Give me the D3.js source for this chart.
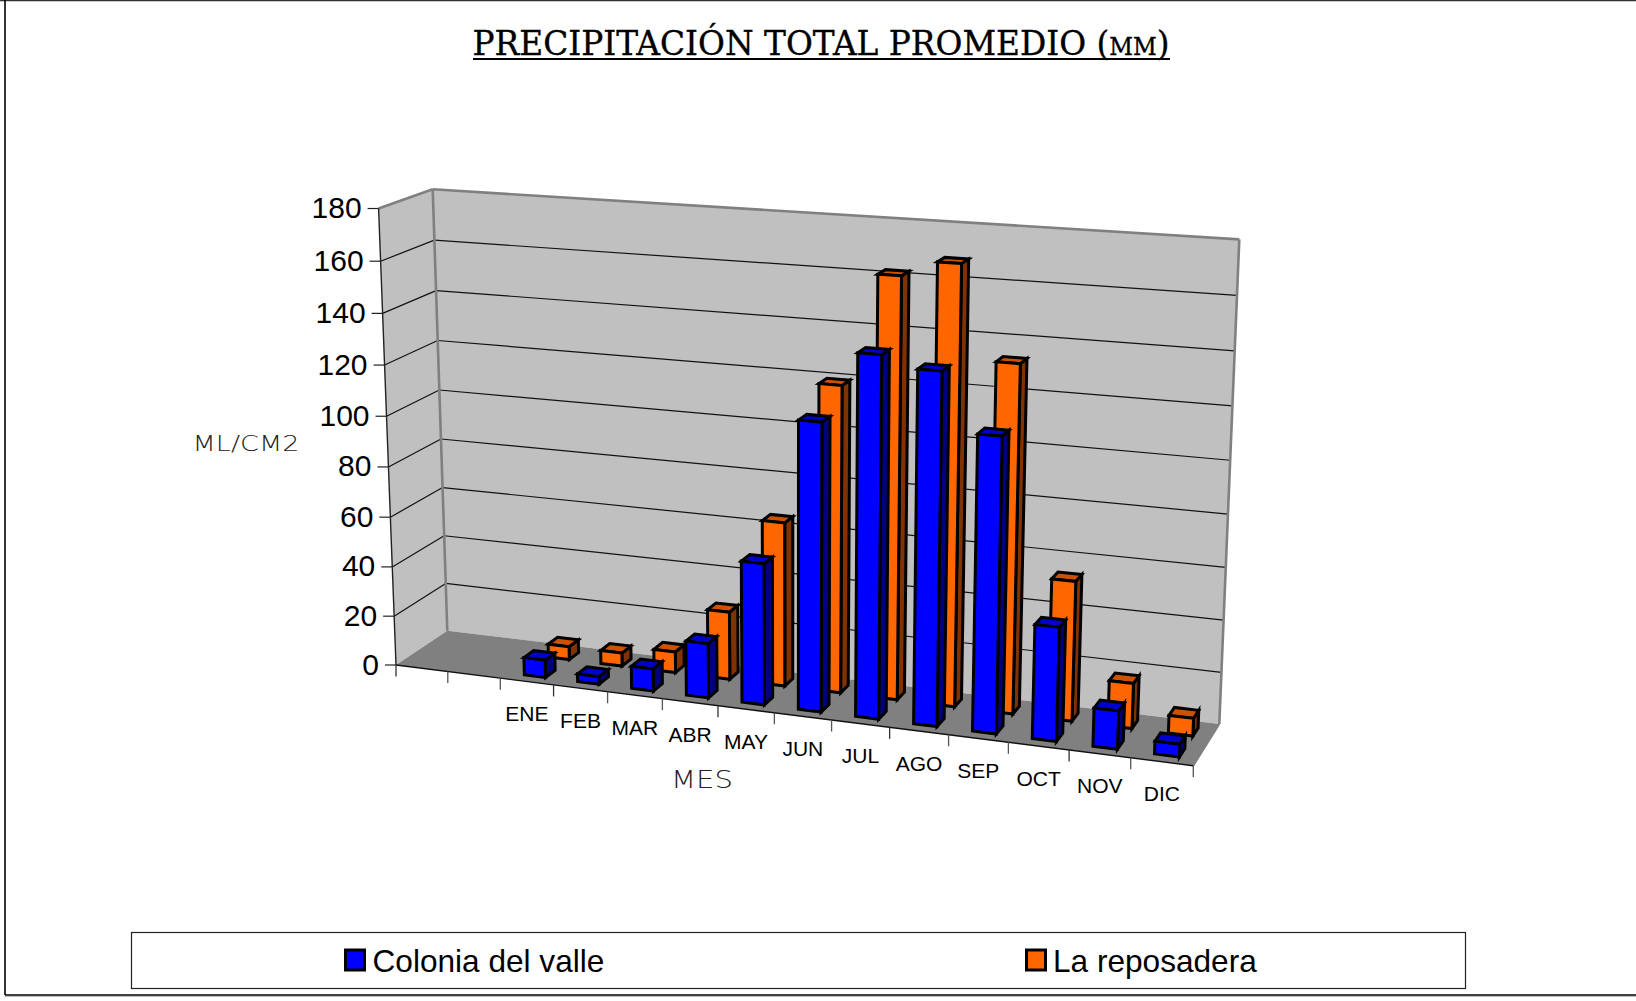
<!DOCTYPE html>
<html><head><meta charset="utf-8">
<script src="https://cdn.jsdelivr.net/npm/d3@7/dist/d3.min.js"></script>
<style>html,body{margin:0;padding:0;background:#fff}svg{display:block}</style>
</head><body><svg id="c" width="1636" height="1001"></svg>
<script>
const months = ["", "", "ENE","FEB","MAR","ABR","MAY","JUN","JUL","AGO","SEP","OCT","NOV","DIC"];
const colonia = [7,3,8.8,21.5,55.2,111,137.7,133.5,111.7,43.3,14.5,4.8];
const reposadera = [5.3,5.3,8.4,27,64.7,119.5,162,168,133,53.8,17.4,6.8];
const yTicks = [0,20,40,60,80,100,120,140,160,180];
const seriesNames = ["Colonia del valle","La reposadera"];
const seriesFill = ["#0000ff","#ff6600"];
const seriesTop = ["#0000cc","#cc5200"];
const seriesSide = ["#000080","#803300"];

// Camera fitted to the chart's plot-box corners
const FL=[396,665],FR=[1193.3,765.7],BR=[1219.3,724],BL=[447.3,630.7];
const TBL=[432.7,189.3],TBR=[1237.6,239];
function quad(p0,p1,p2,p3){
  const sx=p0[0]-p1[0]+p2[0]-p3[0], sy=p0[1]-p1[1]+p2[1]-p3[1];
  const dx1=p1[0]-p2[0],dx2=p3[0]-p2[0],dy1=p1[1]-p2[1],dy2=p3[1]-p2[1];
  const den=dx1*dy2-dx2*dy1, g=(sx*dy2-dx2*sy)/den, h=(dx1*sy-sx*dy1)/den;
  return {A:[p1[0]-p0[0]+g*p1[0],p1[1]-p0[1]+g*p1[1],g],
          C:[p3[0]-p0[0]+h*p3[0],p3[1]-p0[1]+h*p3[1],h],
          D:[p0[0],p0[1],1]};
}
const {A,C,D}=quad(FL,FR,BR,BL);
const T1=[...TBL,1],T2=[...TBR,1];
// least squares: t*T1 - r*T2 = -A
const dot=(u,v)=>u[0]*v[0]+u[1]*v[1]+u[2]*v[2];
const a11=dot(T1,T1),a12=-dot(T1,T2),a22=dot(T2,T2),b1=-dot(T1,A),b2=dot(T2,A);
const det=a11*a22-a12*a12;
const t=(b1*a22-a12*b2)/det;
const B=[0,1,2].map(i=>t*T1[i]-C[i]-D[i]);

const xS=d3.scaleLinear().domain([0,months.length]).range([0,1]);
const yS=d3.scaleLinear().domain([0,180]).range([0,1]);
const xBand=d3.scaleBand().domain(d3.range(months.length)).range([0.001,1.001]).paddingInner(.6).paddingOuter(.3);
const zBand=d3.scaleBand().domain(seriesNames).range([0,1]).paddingInner(.6).paddingOuter(.3);
function P(u,v,z){
  const w=[0,1,2].map(i=>A[i]*u+B[i]*v+C[i]*z+D[i]);
  return [w[0]/w[2],w[1]/w[2]];
}
const line=d3.line();
const svg=d3.select("#c");
const poly=(pts,fill,stroke,sw)=>svg.append("path").attr("d",line(pts)+"Z").attr("fill",fill).attr("stroke",stroke||"none").attr("stroke-width",sw||0).attr("stroke-linejoin","miter");
const seg=(a,b,stroke,sw)=>svg.append("line").attr("x1",a[0]).attr("y1",a[1]).attr("x2",b[0]).attr("y2",b[1]).attr("stroke",stroke).attr("stroke-width",sw);

// frame
seg([0,0.5],[1636,0.5],"#333",1.6);
seg([5,0],[5,995],"#000",1.6);
seg([5,995],[1636,995],"#000",1.6);
seg([5,996.5],[1636,996.5],"#bbb",1);

// walls and floor
poly([P(0,0,0),P(0,1,0),P(0,1,1),P(0,0,1)],"#c0c0c0");
poly([P(0,0,1),P(0,1,1),P(1,1,1),P(1,0,1)],"#c0c0c0");
poly([P(0,0,0),P(0,0,1),P(1,0,1),P(1,0,0)],"#808080");

// grid
yTicks.slice(1,-1).forEach(v=>{
  const y=yS(v);
  seg(P(0,y,0),P(0,y,1),"#111",1.2);
  seg(P(0,y,1),P(1,y,1),"#111",1.2);
});
// wall edges
seg(P(0,0,1),P(0,1,1),"#808080",2.6);
seg(P(0,1,0),P(0,1,1),"#808080",2.6);
seg(P(0,1,1),P(1,1,1),"#808080",2.6);
seg(P(1,1,1),P(1,0,1),"#808080",2.6);
seg(P(1,0,1),P(1,0,0),"#808080",2);
seg(P(0,1,0),P(0,0,0),"#222",1.4);
seg(P(0,0,0),P(1,0,0),"#111",1.4);

// y axis ticks + labels
svg.append("g").selectAll("text").data(yTicks).join("text")
  .attr("x",d=>P(0,yS(d),0)[0]-17).attr("y",d=>P(0,yS(d),0)[1]+9.5)
  .attr("text-anchor","end").attr("font-family","Liberation Sans").attr("font-size",30).attr("fill","#000")
  .text(d=>d);
yTicks.forEach(v=>{const p=P(0,yS(v),0);seg([p[0]-11,p[1]],p,"#222",1.2)});

// x ticks + labels
d3.range(months.length+1).forEach(i=>{const p=P(xS(i),0,0);seg(p,[p[0],p[1]+11.5],i%3==0?"#333":"#555",1.3)});
svg.append("g").selectAll("text").data(months).join("text")
  .attr("x",(d,i)=>P(xS(i+.5),0,0)[0]).attr("y",(d,i)=>P(xS(i+.5),0,0)[1]+39.5)
  .attr("text-anchor","middle").attr("font-family","Liberation Sans").attr("font-size",21).attr("fill","#000")
  .text(d=>d);

// bars, back row first
[1,0].forEach(si=>{
  const vals=si?reposadera:colonia;
  const z0=zBand(seriesNames[si]), z1=z0+zBand.bandwidth();
  vals.forEach((val,i)=>{
    const u0=xBand(i+2),u1=u0+xBand.bandwidth(),h=yS(val);
    poly([P(u1,0,z0),P(u1,h,z0),P(u1,h,z1),P(u1,0,z1)],seriesSide[si],"#000",3);
    poly([P(u0,h,z0),P(u1,h,z0),P(u1,h,z1),P(u0,h,z1)],seriesTop[si],"#000",3);
    poly([P(u0,0,z0),P(u1,0,z0),P(u1,h,z0),P(u0,h,z0)],seriesFill[si],"#000",3);
  });
});

// title
svg.append("text").attr("x",821).attr("y",55)
  .attr("text-anchor","middle").attr("font-family","DejaVu Serif").attr("font-size",34)
  .attr("textLength",697).attr("lengthAdjust","spacingAndGlyphs")
  .style("font-variant","small-caps").attr("fill","#000").attr("stroke","#000").attr("stroke-width",0.35)
  .text("PRECIPITACIÓN TOTAL PROMEDIO (mm)");
seg([473,59],[1170,59],"#000",2.2);

const axisT=(txt,x,y,len,fs)=>svg.append("text").attr("x",x).attr("y",y)
  .attr("text-anchor","middle").attr("font-family","DejaVu Sans").attr("font-size",fs).attr("font-weight",200)
  .attr("textLength",len).attr("lengthAdjust","spacingAndGlyphs")
  .attr("fill","#222").text(txt);
axisT("MES",702,788,62,25);
axisT("ML/CM2",246,451,107,22);

// legend
svg.append("rect").attr("x",131.5).attr("y",932.5).attr("width",1334).attr("height",56).attr("fill","#fff").attr("stroke","#222").attr("stroke-width",1.2);
const legX=[344,1025], legT=[372.5,1053];
seriesNames.forEach((n,i)=>{
  svg.append("rect").attr("x",legX[i]+1.5).attr("y",950).attr("width",19).attr("height",20).attr("fill",seriesFill[i]).attr("stroke","#000").attr("stroke-width",3);
  svg.append("text").attr("x",legT[i]).attr("y",971.5).attr("font-family","Liberation Sans").attr("font-size",31.6).attr("fill","#000").text(n);
});
</script></body></html>
